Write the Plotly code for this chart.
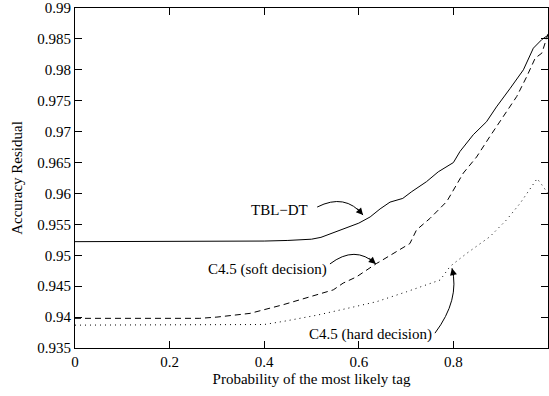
import plotly.graph_objects as go

# Probability threshold of the most likely tag vs. residual accuracy
tbl_x = [0, 0.1, 0.2, 0.3, 0.4, 0.45, 0.5, 0.52, 0.54, 0.56, 0.6, 0.624, 0.645, 0.666,
         0.693, 0.712, 0.743, 0.768, 0.8, 0.814, 0.842, 0.870, 0.891, 0.920, 0.948,
         0.969, 0.987, 1.0]
tbl_y = [0.9522, 0.9522, 0.9522, 0.9522, 0.9523, 0.9524, 0.9526, 0.9529, 0.9535, 0.9541,
         0.9552, 0.9562, 0.9575, 0.9586, 0.9592, 0.9603, 0.9619, 0.9635, 0.9650, 0.9668,
         0.9695, 0.9716, 0.9740, 0.9770, 0.9800, 0.9835, 0.9849, 0.9856]

soft_x = [0, 0.1, 0.2, 0.264, 0.3, 0.37, 0.44, 0.497, 0.546, 0.567, 0.595, 0.638, 0.645,
          0.708, 0.722, 0.751, 0.786, 0.821, 0.849, 0.877, 0.906, 0.934, 0.955, 0.973,
          0.987, 1.0]
soft_y = [0.9398, 0.9398, 0.9398, 0.9398, 0.9400, 0.9406, 0.9420, 0.9433, 0.9444, 0.9455,
          0.9465, 0.9487, 0.9490, 0.9519, 0.9541, 0.9560, 0.9587, 0.9633, 0.9659, 0.9692,
          0.9724, 0.9757, 0.9789, 0.9819, 0.9827, 0.9858]

hard_x = [0, 0.2, 0.4, 0.44, 0.511, 0.581, 0.638, 0.701, 0.743, 0.772, 0.793, 0.828,
          0.877, 0.912, 0.941, 0.960, 0.977, 0.987, 1.0]
hard_y = [0.9387, 0.9387, 0.9388, 0.9393, 0.9403, 0.9415, 0.9425, 0.9441, 0.9452, 0.9460,
          0.9482, 0.9503, 0.9530, 0.9557, 0.9584, 0.9605, 0.9624, 0.9614, 0.9600]

x_ticks = [0, 0.2, 0.4, 0.6, 0.8, 1.0]
x_tick_text = ["0", "0.2", "0.4", "0.6", "0.8", "1"]
y_ticks = [0.935, 0.94, 0.945, 0.95, 0.955, 0.96, 0.965, 0.97, 0.975, 0.98, 0.985, 0.99]
y_tick_text = ["0.935", "0.94", "0.945", "0.95", "0.955", "0.96", "0.965", "0.97",
               "0.975", "0.98", "0.985", "0.99"]

FONT = "Liberation Serif, Times New Roman, serif"

fig = go.Figure()
fig.add_trace(go.Scatter(x=tbl_x, y=tbl_y, mode="lines", name="TBL−DT",
                         line=dict(color="black", width=1)))
fig.add_trace(go.Scatter(x=soft_x, y=soft_y, mode="lines", name="C4.5 (soft decision)",
                         line=dict(color="black", width=1, dash="6px,4px")))
fig.add_trace(go.Scatter(x=hard_x, y=hard_y, mode="lines", name="C4.5 (hard decision)",
                         line=dict(color="black", width=1, dash="1px,4px")))

# Curved label pointers: label position, (start, control, end) in data coordinates,
# plus the arrowhead tail offset in pixels along the end tangent
pointers = [
    ("TBL−DT", (0.433, 0.9573), (0.512, 0.9578), (0.571, 0.9601), (0.609, 0.9565), (-7, -8)),
    ("C4.5 (soft decision)", (0.407, 0.9477), (0.539, 0.9486), (0.592, 0.9517), (0.636, 0.9486), (-8, -7)),
    ("C4.5 (hard decision)", (0.624, 0.9372), (0.761, 0.9374), (0.814, 0.9428), (0.797, 0.9479), (2, 9)),
]

for label, txt_pos, p0, pc, p1, (ax, ay) in pointers:
    fig.add_annotation(x=txt_pos[0], y=txt_pos[1], text=label, showarrow=False,
                       xanchor="center", yanchor="middle",
                       font=dict(family=FONT, size=15, color="black"))
    fig.add_shape(type="path", xref="x", yref="y",
                  path=f"M {p0[0]},{p0[1]} Q {pc[0]},{pc[1]} {p1[0]},{p1[1]}",
                  line=dict(color="black", width=1))
    fig.add_annotation(x=p1[0], y=p1[1], ax=ax, ay=ay, text="", showarrow=True,
                       arrowhead=2, arrowsize=1.4, arrowwidth=1, arrowcolor="black",
                       standoff=0)

axis_common = dict(showline=True, linecolor="black", linewidth=1, mirror="ticks",
                   ticks="inside", ticklen=7, tickcolor="black", showgrid=False,
                   zeroline=False, tickfont=dict(family=FONT, size=15, color="black"))

fig.update_xaxes(range=[0, 1], tickvals=x_ticks, ticktext=x_tick_text,
                 title=dict(text="Probability of the most likely tag",
                            font=dict(family=FONT, size=15, color="black"), standoff=4),
                 **axis_common)
fig.update_yaxes(range=[0.935, 0.99], tickvals=y_ticks, ticktext=y_tick_text,
                 title=dict(text="Accuracy Residual",
                            font=dict(family=FONT, size=15, color="black"), standoff=11),
                 **axis_common)

fig.update_layout(width=549, height=396, showlegend=False,
                  margin=dict(l=75, r=1, t=8, b=48),
                  plot_bgcolor="white", paper_bgcolor="white")

fig.write_html("out.html")
